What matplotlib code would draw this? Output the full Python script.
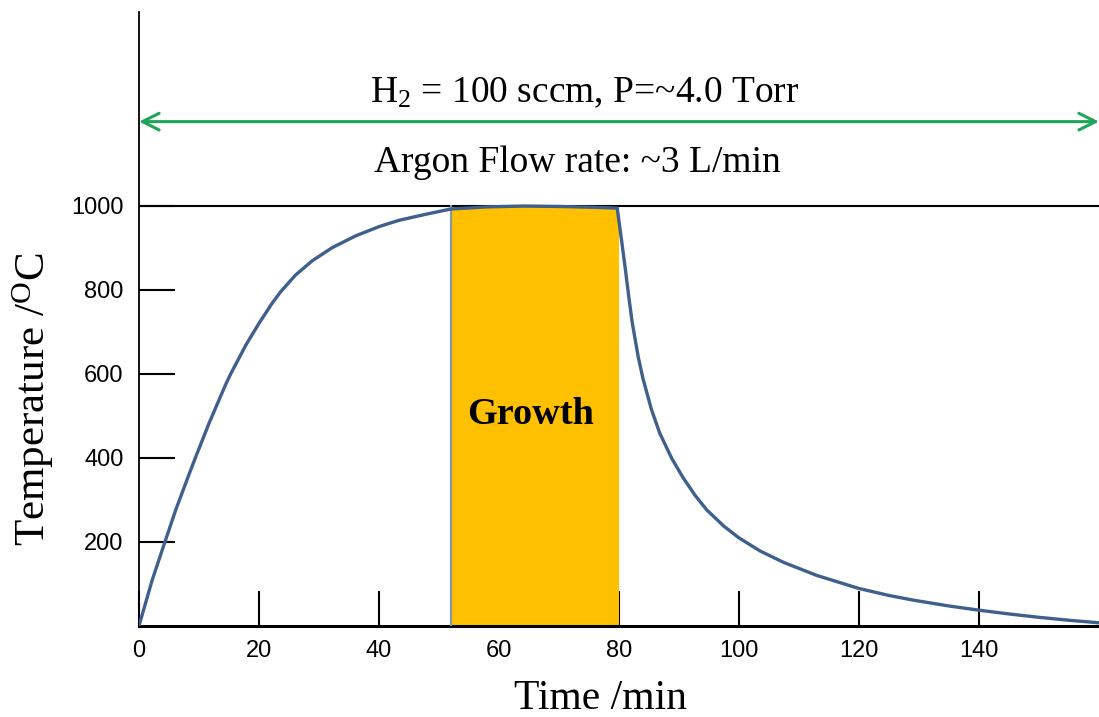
import matplotlib
matplotlib.use("Agg")
import matplotlib.pyplot as plt
from matplotlib.patches import Rectangle

plt.rcParams['mathtext.fontset'] = 'custom'
plt.rcParams['mathtext.rm'] = 'Liberation Serif'
plt.rcParams['mathtext.it'] = 'Liberation Serif:italic'
plt.rcParams['mathtext.bf'] = 'Liberation Serif:bold'

# Data
time_min = [0, 2.2, 4.33, 6.1, 8.33, 9.4, 11.7, 14.4, 15.3, 17.8, 20, 22.2, 23.6, 26.1,
            28.9, 32.2, 36.1, 40, 43.3, 48.3, 52,
            58, 64, 70, 76, 79.7,
            80.4, 81.0, 81.7, 82.2, 83.2, 84.0, 85.4, 86.8, 88.8, 90.7, 92.7, 94.6,
            97.4, 99.9, 103.5, 107.4, 112.9, 119.9, 125, 129, 135, 140, 145, 150, 155, 160]
temp_c = [0, 109, 200, 275, 360, 400, 483, 573, 600, 668, 720, 768, 795, 835,
          869, 900, 928, 950, 965, 981, 992,
          997, 999, 998, 996, 994,
          920, 855, 775, 722, 640, 588, 515, 458, 398, 352, 310, 276,
          238, 210, 178, 151, 120, 89, 72, 61, 47, 37, 28, 20, 13, 7]
growth_start, growth_end = 52, 80
growth_top = 1000
arrow_level = 1200
x_ticks = [0, 20, 40, 60, 80, 100, 120, 140]
y_ticks = [200, 400, 600, 800, 1000]

serif = 'Liberation Serif'
sans = 'Liberation Sans'

fig = plt.figure(figsize=(10.99, 7.17), dpi=100)
ax = fig.add_axes([0.1265, 0.1273, 0.8735, 0.856])
ax.set_xlim(0, 160)
ax.set_ylim(0, 1461)

# growth box
ax.add_patch(Rectangle((growth_start, 0), growth_end - growth_start, growth_top,
                       facecolor='#FFC000', edgecolor='none', zorder=2))
ax.plot([growth_start, growth_start], [0, growth_top], color='#8497A8', lw=1.6, zorder=3)

# 1000 line
ax.axhline(1000, color='black', lw=1.5, zorder=2.5)

# temperature curve
ax.plot(time_min, temp_c, color='#3F5F8C', lw=2.4, zorder=4,
        solid_joinstyle='round', solid_capstyle='round')

# green arrow
ax.annotate('', xy=(160, arrow_level), xytext=(0, arrow_level),
            arrowprops=dict(arrowstyle='<->', color='#1FA55A', lw=2.2,
                            mutation_scale=30, shrinkA=0, shrinkB=0), zorder=5)

ax.text(74.3, 1268, r'H$_\mathrm{2}$ = 100 sccm, P=~4.0 Torr', family=serif, fontsize=27,
        ha='center', va='center')
ax.text(73.1, 1102, 'Argon Flow rate: ~3 L/min', family=serif, fontsize=27,
        ha='center', va='center')
ax.text(65.2, 502, 'Growth', family=serif, fontsize=27.5, fontweight='bold',
        ha='center', va='center', zorder=5)

# spines & ticks
for s in ['top', 'right']:
    ax.spines[s].set_visible(False)
ax.spines['left'].set_linewidth(1.3)
ax.spines['bottom'].set_linewidth(2.2)
ax.set_xticks(x_ticks)
ax.set_xticklabels([str(v) for v in x_ticks], family=sans, fontsize=17)
ax.set_yticks(y_ticks)
ax.set_yticklabels([str(v) for v in y_ticks], family=sans, fontsize=17)
ax.tick_params(axis='x', direction='in', length=25, width=1.5, pad=10)
ax.tick_params(axis='y', direction='in', length=26, width=1.5, pad=11)

fig.text(0.030, 0.443, r'Temperature /$^\mathrm{O}$C', family=serif, fontsize=31,
         rotation=90, ha='center', va='center')
fig.text(0.546, 0.026, 'Time /min', family=serif, fontsize=30, ha='center', va='center')

fig.savefig('out.png', dpi=100)
